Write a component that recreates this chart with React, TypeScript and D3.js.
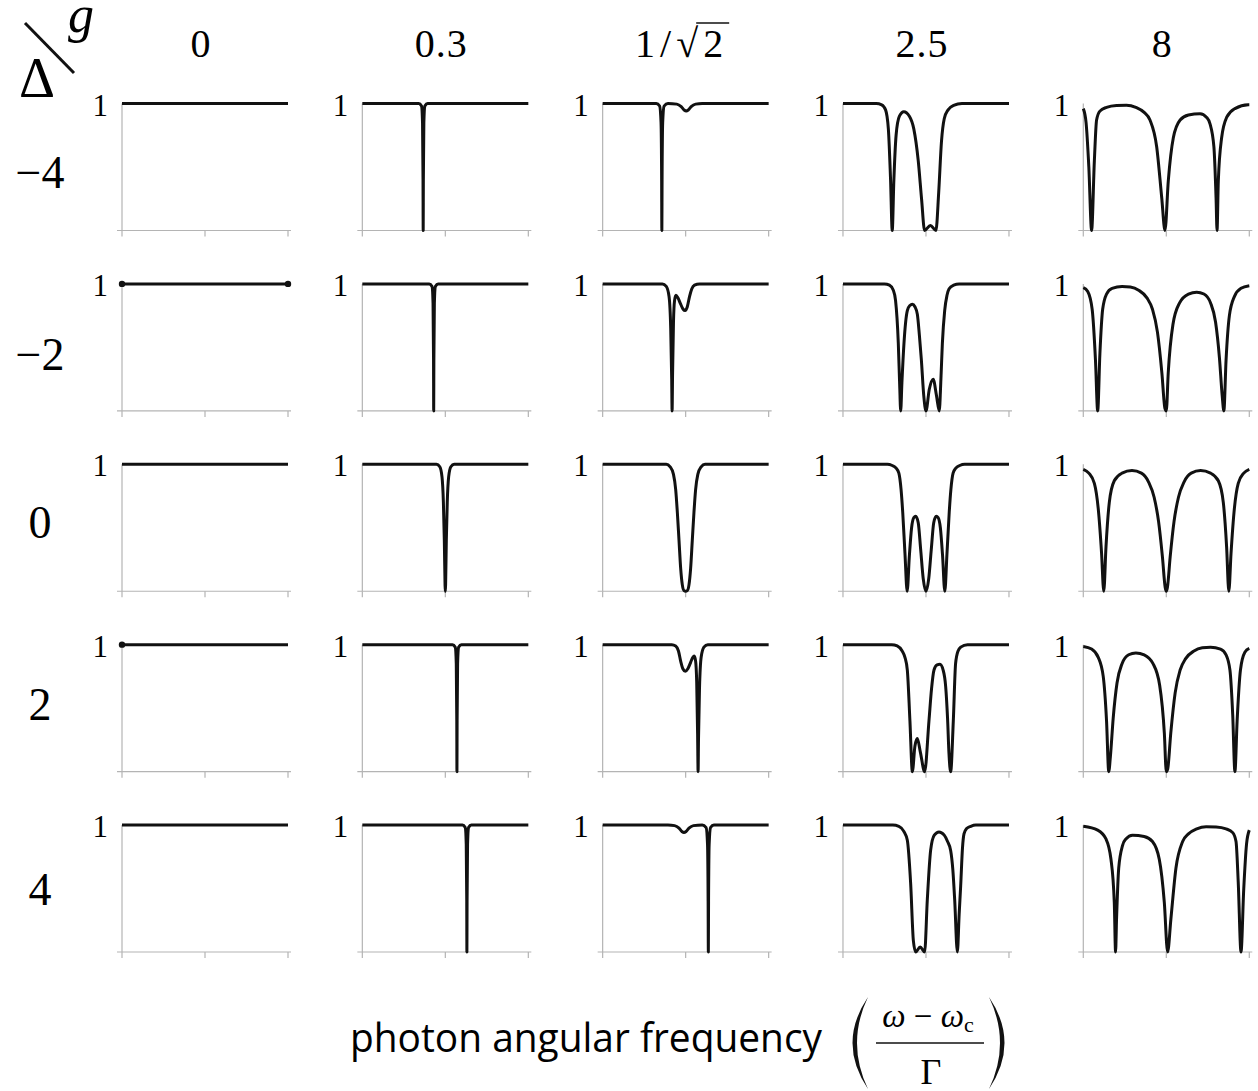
import React, { useEffect, useRef } from 'react'
import * as d3 from 'd3'

// coupling g (columns) and detuning Δ (rows)
const gLabels = ['0', '0.3', '1/√2', '2.5', '8']
const deltaLabels = ['−4', '−2', '0', '2', '4']
const xTicks = [-15, 0, 15]

// transmission curves: [ (ω-ωc)/Γ , T ]
// each column holds the five rows Δ = -4, -2, 0, 2, 4
const gZero = [
  [[-15, 1], [15, 1]],
  [[-15, 1], [15, 1]],
  [[-15, 1], [15, 1]],
  [[-15, 1], [15, 1]],
  [[-15, 1], [15, 1]],
]
// stray end markers seen in the g = 0 column: [row, x]
const endDots = [[1, -15], [1, 15], [3, -15]]

const gPoint3 = [
  [[-15, 1], [-4.8, 1], [-4.3, 0.98], [-4.12, 0.85], [-4.03, 0.4], [-4, 0], [-3.97, 0.4], [-3.88, 0.85], [-3.7, 0.98], [-3.2, 1], [15, 1]],
  [[-15, 1], [-2.9, 1], [-2.4, 0.98], [-2.22, 0.85], [-2.13, 0.4], [-2.1, 0], [-2.07, 0.4], [-1.98, 0.85], [-1.8, 0.98], [-1.3, 1], [15, 1]],
  [[-15, 1], [-1.6, 1], [-1.0, 0.98], [-0.6, 0.9], [-0.35, 0.7], [-0.18, 0.4], [-0.05, 0.05], [0, 0], [0.05, 0.05], [0.18, 0.4], [0.35, 0.7], [0.6, 0.9], [1.0, 0.98], [1.6, 1], [15, 1]],
  [[-15, 1], [1.3, 1], [1.8, 0.98], [1.98, 0.85], [2.07, 0.4], [2.1, 0], [2.13, 0.4], [2.22, 0.85], [2.4, 0.98], [2.9, 1], [15, 1]],
  [[-15, 1], [3.1, 1], [3.6, 0.98], [3.78, 0.85], [3.87, 0.4], [3.9, 0], [3.93, 0.4], [4.02, 0.85], [4.2, 0.98], [4.7, 1], [15, 1]],
]

const gInvSqrt2 = [
  [[-15, 1], [-5.3, 1], [-4.7, 0.98], [-4.45, 0.85], [-4.34, 0.4], [-4.3, 0], [-4.26, 0.4], [-4.15, 0.85], [-3.9, 0.98], [-3.2, 1], [-1.6, 0.995], [-0.8, 0.975], [-0.3, 0.95], [0.1, 0.94], [0.5, 0.95], [1.0, 0.975], [1.8, 0.995], [3, 1], [15, 1]],
  [[-15, 1], [-4.2, 1], [-3.5, 0.98], [-3.0, 0.9], [-2.7, 0.65], [-2.52, 0.25], [-2.45, 0], [-2.36, 0.3], [-2.2, 0.7], [-2.0, 0.87], [-1.75, 0.91], [-1.4, 0.89], [-0.9, 0.84], [-0.45, 0.8], [-0.1, 0.79], [0.3, 0.82], [0.7, 0.9], [1.1, 0.96], [1.6, 0.99], [2.5, 1], [15, 1]],
  [[-15, 1], [-3.5, 1], [-2.8, 0.98], [-2.2, 0.92], [-1.8, 0.8], [-1.5, 0.62], [-1.2, 0.4], [-0.9, 0.18], [-0.6, 0.05], [-0.3, 0.005], [0, 0], [0.3, 0.005], [0.6, 0.05], [0.9, 0.18], [1.2, 0.4], [1.5, 0.62], [1.8, 0.8], [2.2, 0.92], [2.8, 0.98], [3.5, 1], [15, 1]],
  [[-15, 1], [-2.5, 1], [-1.8, 0.99], [-1.3, 0.95], [-0.9, 0.87], [-0.5, 0.81], [-0.05, 0.79], [0.4, 0.81], [0.9, 0.86], [1.3, 0.9], [1.55, 0.91], [1.8, 0.87], [2.0, 0.7], [2.16, 0.3], [2.25, 0], [2.32, 0.25], [2.5, 0.65], [2.8, 0.9], [3.3, 0.98], [4.0, 1], [15, 1]],
  [[-15, 1], [-3.2, 1], [-2.0, 0.995], [-1.2, 0.975], [-0.7, 0.95], [-0.3, 0.94], [0.1, 0.95], [0.6, 0.975], [1.4, 0.995], [3.0, 1], [3.7, 0.98], [3.95, 0.85], [4.06, 0.4], [4.1, 0], [4.14, 0.4], [4.25, 0.85], [4.5, 0.98], [5.1, 1], [15, 1]],
]

const gTwoHalf = [
  [[-15, 1], [-9, 1], [-8, 0.99], [-7.3, 0.95], [-6.8, 0.8], [-6.4, 0.4], [-6.1, 0], [-5.8, 0.4], [-5.4, 0.75], [-4.8, 0.9], [-4, 0.935], [-3, 0.9], [-2.2, 0.8], [-1.4, 0.55], [-0.8, 0.25], [-0.25, 0], [0.8, 0.04], [1.8, 0], [2.3, 0.3], [2.8, 0.7], [3.3, 0.88], [4, 0.95], [5, 0.985], [6.5, 1], [15, 1]],
  [[-15, 1], [-7.5, 1], [-6.6, 0.99], [-5.9, 0.95], [-5.5, 0.87], [-5.0, 0.53], [-4.75, 0.2], [-4.57, 0], [-4.35, 0.22], [-3.98, 0.53], [-3.37, 0.79], [-2.9, 0.83], [-2.46, 0.84], [-2.0, 0.82], [-1.56, 0.76], [-1.2, 0.6], [-0.83, 0.4], [-0.4, 0.12], [0, 0], [0.6, 0.17], [1.3, 0.25], [1.9, 0.12], [2.4, 0], [2.7, 0.25], [2.96, 0.53], [3.38, 0.79], [3.8, 0.91], [4.16, 0.96], [5.0, 0.99], [6, 1], [15, 1]],
  [[-15, 1], [-7, 1], [-6.1, 0.99], [-5.4, 0.97], [-4.9, 0.93], [-4.5, 0.8], [-4.2, 0.62], [-3.8, 0.3], [-3.4, 0], [-3.0, 0.28], [-2.6, 0.5], [-2.2, 0.58], [-1.85, 0.59], [-1.4, 0.54], [-0.96, 0.33], [-0.5, 0.1], [0, 0], [0.5, 0.1], [0.96, 0.33], [1.4, 0.54], [1.85, 0.59], [2.2, 0.58], [2.6, 0.5], [3.0, 0.28], [3.4, 0], [3.8, 0.3], [4.2, 0.62], [4.5, 0.8], [4.9, 0.93], [5.4, 0.97], [6.1, 0.99], [7, 1], [15, 1]],
  [[-15, 1], [-6.2, 1], [-5.2, 0.99], [-4.3, 0.95], [-3.8, 0.9], [-3.37, 0.8], [-2.9, 0.4], [-2.46, 0], [-2.0, 0.2], [-1.56, 0.26], [-1.0, 0.15], [-0.24, 0], [0.54, 0.4], [1.0, 0.65], [1.45, 0.8], [2.0, 0.84], [2.53, 0.845], [3.1, 0.8], [3.56, 0.67], [3.9, 0.42], [4.16, 0.14], [4.46, 0], [4.94, 0.4], [5.35, 0.85], [5.8, 0.95], [6.27, 0.98], [7.5, 1], [15, 1]],
  [[-15, 1], [-6, 1], [-4.9, 0.99], [-4.0, 0.95], [-3.37, 0.88], [-2.77, 0.54], [-2.28, 0.09], [-1.86, 0], [-1.05, 0.04], [-0.24, 0], [0.24, 0.41], [0.84, 0.8], [1.5, 0.92], [2.35, 0.945], [3.3, 0.92], [3.9, 0.87], [4.46, 0.8], [4.85, 0.65], [5.19, 0.41], [5.67, 0], [6.0, 0.3], [6.27, 0.52], [6.6, 0.82], [6.87, 0.93], [7.3, 0.97], [8.1, 0.99], [9, 1], [15, 1]],
]

const gEight = [
  [[-15, 0.96], [-14.5, 0.85], [-14.0, 0.5], [-13.5, 0], [-13.0, 0.55], [-12.6, 0.87], [-12, 0.94], [-10.8, 0.97], [-9, 0.985], [-7.2, 0.987], [-5.5, 0.97], [-4, 0.93], [-2.95, 0.87], [-1.74, 0.66], [-0.83, 0.26], [-0.24, 0], [0.36, 0.39], [1.27, 0.73], [2.5, 0.87], [4, 0.91], [6.1, 0.92], [7.3, 0.89], [7.9, 0.84], [8.6, 0.66], [8.99, 0.26], [9.17, 0], [9.4, 0.39], [10.0, 0.73], [10.9, 0.89], [12.4, 0.96], [14.8, 0.99], [15, 0.99]],
  [[-15, 0.97], [-14.2, 0.94], [-13.4, 0.8], [-12.8, 0.4], [-12.4, 0], [-12.0, 0.45], [-11.5, 0.8], [-10.8, 0.92], [-9.8, 0.965], [-8, 0.98], [-6.5, 0.975], [-5, 0.95], [-3.5, 0.89], [-2.5, 0.8], [-1.6, 0.62], [-0.8, 0.3], [-0.25, 0.02], [0, 0], [0.35, 0.3], [1.2, 0.68], [2.4, 0.85], [4, 0.92], [5.5, 0.935], [6.8, 0.92], [8, 0.85], [8.9, 0.7], [9.6, 0.42], [10.1, 0.12], [10.4, 0], [10.8, 0.4], [11.4, 0.75], [12.3, 0.9], [13.5, 0.965], [15, 0.985]],
  [[-15, 0.96], [-14, 0.93], [-13, 0.85], [-12.3, 0.65], [-11.7, 0.3], [-11.3, 0], [-10.9, 0.35], [-10.3, 0.7], [-9.4, 0.87], [-8, 0.93], [-6.2, 0.95], [-4.5, 0.93], [-3.2, 0.86], [-2.2, 0.74], [-1.4, 0.55], [-0.7, 0.27], [-0.2, 0.03], [0, 0], [0.2, 0.03], [0.7, 0.27], [1.4, 0.55], [2.2, 0.74], [3.2, 0.86], [4.5, 0.93], [6.2, 0.95], [8, 0.93], [9.4, 0.87], [10.3, 0.7], [10.9, 0.35], [11.3, 0], [11.7, 0.3], [12.3, 0.65], [13, 0.85], [14, 0.93], [15, 0.96]],
  [[-15, 0.985], [-13.5, 0.965], [-12.3, 0.9], [-11.4, 0.75], [-10.8, 0.4], [-10.4, 0], [-10.1, 0.12], [-9.6, 0.42], [-8.9, 0.7], [-8, 0.85], [-6.8, 0.92], [-5.5, 0.935], [-4, 0.92], [-2.4, 0.85], [-1.2, 0.68], [-0.35, 0.3], [0, 0], [0.25, 0.02], [0.8, 0.3], [1.6, 0.62], [2.5, 0.8], [3.5, 0.89], [5, 0.95], [6.5, 0.975], [8, 0.98], [9.8, 0.965], [10.8, 0.92], [11.5, 0.8], [12.0, 0.45], [12.4, 0], [12.8, 0.4], [13.4, 0.8], [14.2, 0.94], [15, 0.97]],
  [[-15, 0.99], [-12.4, 0.96], [-10.9, 0.89], [-10.0, 0.73], [-9.4, 0.39], [-9.17, 0], [-8.99, 0.26], [-8.6, 0.66], [-7.9, 0.84], [-7.3, 0.89], [-6.1, 0.92], [-4, 0.91], [-2.5, 0.87], [-1.27, 0.73], [-0.36, 0.39], [0.24, 0], [0.83, 0.26], [1.74, 0.66], [2.95, 0.87], [4, 0.93], [5.5, 0.97], [7.2, 0.987], [9, 0.985], [10.8, 0.97], [12, 0.94], [12.6, 0.87], [13.0, 0.55], [13.5, 0], [14.0, 0.5], [14.5, 0.85], [15, 0.96]],
]

const columns = [gZero, gPoint3, gInvSqrt2, gTwoHalf, gEight]

const W = 1258
const H = 1091

export default function App() {
  const ref = useRef<SVGSVGElement>(null)

  useEffect(() => {
    const svg = d3.select(ref.current)
    svg.selectAll('*').remove()

    const panelW = 166
    const panelH = 127
    const colLeft = d3.scaleLinear().domain([0, 4]).range([122, 1083.3])
    const rowTop = d3.scaleLinear().domain([0, 4]).range([103.5, 825])
    // row label baselines sit a little unevenly in the original
    const rowLabelY = [188, 370, 538, 720, 905]

    const x = d3.scaleLinear().domain([-15, 15]).range([0, panelW])
    const y = d3.scaleLinear().domain([0, 1]).range([panelH, 0])
    const line = d3.line<number[]>()
      .x(d => x(d[0]))
      .y(d => y(d[1]))
      .curve(d3.curveMonotoneX)

    const serif = '"Liberation Serif", "Times New Roman", serif'
    const axisGray = '#b4b4b4'

    columns.forEach((rows, c) => {
      rows.forEach((pts, r) => {
        const g = svg.append('g')
          .attr('transform', `translate(${colLeft(c)},${rowTop(r)})`)

        // axes in light gray
        g.append('line')
          .attr('x1', 0).attr('x2', 0)
          .attr('y1', y(1)).attr('y2', y(0))
          .attr('stroke', axisGray).attr('stroke-width', 1.2)
        g.append('line')
          .attr('x1', -5).attr('x2', panelW + 3)
          .attr('y1', y(0)).attr('y2', y(0))
          .attr('stroke', axisGray).attr('stroke-width', 1.2)
        g.selectAll('.tick')
          .data(xTicks)
          .enter().append('line')
          .attr('x1', d => x(d)).attr('x2', d => x(d))
          .attr('y1', y(0)).attr('y2', y(0) + 6)
          .attr('stroke', axisGray).attr('stroke-width', 1.2)

        g.append('text')
          .attr('x', -14).attr('y', y(1) + 12)
          .attr('text-anchor', 'end')
          .attr('font-family', serif)
          .attr('font-size', 31)
          .text('1')

        g.append('path')
          .attr('d', line(pts as number[][]))
          .attr('fill', 'none')
          .attr('stroke', '#111')
          .attr('stroke-width', 3)
          .attr('stroke-linejoin', 'round')

        if (c === 0) {
          endDots.filter(d => d[0] === r).forEach(d => {
            g.append('circle')
              .attr('cx', x(d[1])).attr('cy', y(1))
              .attr('r', 3.2).attr('fill', '#111')
          })
        }
      })
    })

    // column headers (g)
    gLabels.forEach((lab, c) => {
      const isRoot = lab.includes('√')
      const t = svg.append('text')
        .attr('x', colLeft(c) + 79).attr('y', 57)
        .attr('text-anchor', 'middle')
        .attr('font-family', serif)
        .attr('font-size', 40)
        .attr('letter-spacing', isRoot ? 5 : 1)
        .text(lab)
      if (isRoot) {
        const node = t.node() as SVGTextElement
        const e = node.getExtentOfChar(3)
        const s = node.getExtentOfChar(2)
        svg.append('line')
          .attr('x1', s.x + s.width - 7).attr('x2', e.x + e.width + 1)
          .attr('y1', 57 - 34).attr('y2', 57 - 34)
          .attr('stroke', '#111').attr('stroke-width', 1.7)
      }
    })

    // row labels (Δ)
    deltaLabels.forEach((lab, r) => {
      svg.append('text')
        .attr('x', 40).attr('y', rowLabelY[r])
        .attr('text-anchor', 'middle')
        .attr('font-family', serif)
        .attr('font-size', 46)
        .text(lab)
    })

    // corner Δ / g
    svg.append('text')
      .attr('x', 37).attr('y', 97)
      .attr('text-anchor', 'middle')
      .attr('font-family', serif)
      .attr('font-size', 56)
      .text('Δ')
    svg.append('line')
      .attr('x1', 25).attr('y1', 23)
      .attr('x2', 74).attr('y2', 73)
      .attr('stroke', '#111').attr('stroke-width', 3)
    svg.append('text')
      .attr('x', 81).attr('y', 32)
      .attr('text-anchor', 'middle')
      .attr('font-family', serif)
      .attr('font-style', 'italic')
      .attr('font-size', 52)
      .text('g')

    // x axis title
    svg.append('text')
      .attr('x', 350).attr('y', 1052)
      .attr('font-family', '"Open Sans", "Noto Sans", sans-serif')
      .attr('font-size', 40)
      .attr('textLength', 472)
      .attr('lengthAdjust', 'spacingAndGlyphs')
      .attr('fill', '#000')
      .text('photon angular frequency')

    svg.append('path')
      .attr('d', 'M 868 997 Q 837 1043 868 1089 Q 846 1043 868 997 Z')
      .attr('fill', '#111')
    svg.append('path')
      .attr('d', 'M 989 997 Q 1020 1043 989 1089 Q 1011 1043 989 997 Z')
      .attr('fill', '#111')

    const num = svg.append('text')
      .attr('x', 928).attr('y', 1027)
      .attr('text-anchor', 'middle')
      .attr('font-family', serif)
      .attr('font-size', 33)
    num.append('tspan').attr('font-style', 'italic').text('ω')
    num.append('tspan').text(' − ')
    num.append('tspan').attr('font-style', 'italic').text('ω')
    num.append('tspan').attr('font-size', 22).attr('dy', 5).text('c')

    svg.append('line')
      .attr('x1', 876).attr('x2', 984)
      .attr('y1', 1043).attr('y2', 1043)
      .attr('stroke', '#111').attr('stroke-width', 1.7)

    svg.append('text')
      .attr('x', 931).attr('y', 1084)
      .attr('text-anchor', 'middle')
      .attr('font-family', serif)
      .attr('font-size', 36)
      .text('Γ')
  }, [])

  return (
    <svg
      ref={ref}
      width={W}
      height={H}
      style={{ position: 'absolute', left: 0, top: 0, background: '#fff' }}
    />
  )
}
